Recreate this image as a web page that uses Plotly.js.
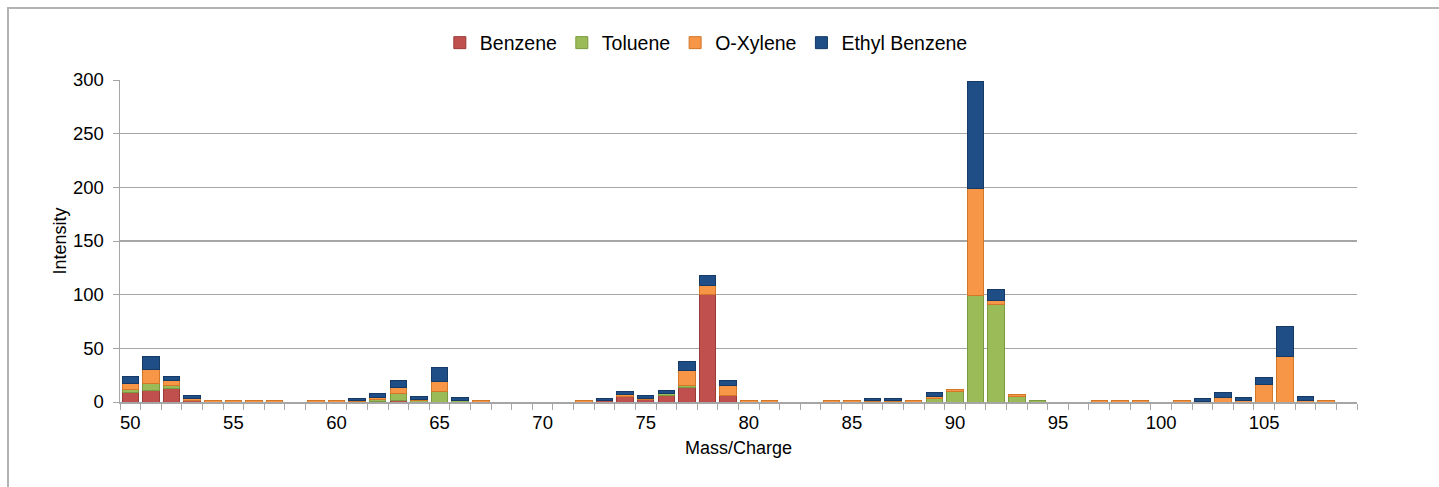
<!DOCTYPE html>
<html>
<head>
<meta charset="utf-8">
<script src="https://cdn.plot.ly/plotly-3.0.1.min.js"></script>
<style>
  html, body { margin: 0; padding: 0; background: #ffffff; overflow: hidden; }
  #chart { position: absolute; left: 0; top: 0; width: 1439px; height: 487px; }
  #frameTop { position: absolute; left: 7px; top: 7px; width: 1432px; height: 0;
              border-top: 2px solid #b3b3b3; pointer-events: none; }
  #frameLeft { position: absolute; left: 7px; top: 7px; width: 0; height: 480px;
               border-left: 2px solid #b3b3b3; pointer-events: none; }
</style>
</head>
<body>
<div id="chart"></div>
<div id="frameTop"></div>
<div id="frameLeft"></div>
<script>
// Mass/charge categories that carry a value
const massCharge = [50,51,52,53,54,55,56,57,59,60,61,62,63,64,65,66,67,
                    72,73,74,75,76,77,78,79,80,81,
                    84,85,86,87,88,89,90,91,92,93,94,
                    97,98,99,101,102,103,104,105,106,107,108];

const benzene = [9,11,13,1,null,null,null,null,null,null,null,0.5,1,null,null,null,null,
                 null,1,5,2,6.5,13.5,100,6,null,null,
                 null,null,null,null,null,null,null,null,null,null,null,
                 null,null,null,null,null,null,null,null,null,null,null];

const toluene = [3,6,2,0.5,null,null,null,null,null,null,0.5,2,6.5,1,10,1,null,
                 null,null,0.5,0.5,1,1.5,0.5,0.3,null,null,
                 null,null,0.5,0.5,null,3.5,10,99,91,5,1.5,
                 null,null,null,null,null,null,null,null,null,null,null];

const oXylene = [5,13,5,2,1,1,1.5,1,1,1.5,1,2,6,1,9,0.5,1.5,
                 1.5,0.5,1.5,1,0.5,14,8,9,1.5,1.5,
                 1.5,1.5,0.5,0.5,1.5,1.5,2,100,4,2,null,
                 1.5,1.5,1.5,1.5,0.5,4,1,16,42,1,1.5];

const ethylBenzene = [7,12,4,3,null,null,null,null,null,null,2,3,7,3,13,2.5,null,
                      null,2,3,2.5,2.5,8.5,9,4.5,null,null,
                      null,null,2,2,null,4,null,100,10,null,null,
                      null,null,null,null,2.5,4.5,3,7,28,4,null];

const seriesNames = ['Benzene','Toluene','O-Xylene','Ethyl Benzene'];
const seriesValues = [benzene, toluene, oXylene, ethylBenzene];
const fillColors = ['#c0504d','#9bbb59','#f79646','#1f4e87'];
const edgeColors = ['#9a3b38','#7a9a40','#d27628','#163a66'];

const xTickVals = [50,55,60,65,70,75,80,85,90,95,100,105];
const yTickVals = [0,50,100,150,200,250,300];

const traces = seriesNames.map((name, i) => ({
  type: 'bar',
  name: name,
  x: massCharge,
  y: seriesValues[i],
  width: 0.8,
  marker: { color: fillColors[i], line: { color: edgeColors[i], width: 1 } },
  hoverinfo: 'x+y+name'
}));

const font = "'Liberation Sans', Arial, sans-serif";

const layout = {
  width: 1439, height: 487,
  margin: { l: 120, r: 82, t: 80, b: 85 },
  paper_bgcolor: '#ffffff',
  plot_bgcolor: '#ffffff',
  barmode: 'stack',
  font: { family: font, color: '#000000', size: 18 },
  showlegend: true,
  legend: {
    orientation: 'h',
    x: 0.474, xanchor: 'center',
    y: 1.115, yanchor: 'middle',
    font: { family: font, size: 19.5, color: '#000000' },
    itemwidth: 30,
    tracegroupgap: 0,
    traceorder: 'normal'
  },
  xaxis: {
    range: [49.5, 109.5],
    tickmode: 'array',
    tickvals: xTickVals,
    ticktext: xTickVals.map(String),
    ticks: '',
    showgrid: false,
    zeroline: false,
    showline: true,
    linecolor: '#a6a6a6',
    linewidth: 1.5,
    tickfont: { family: font, size: 18.5, color: '#000000' },
    ticklabelstandoff: 3,
    minor: { tick0: 49.5, dtick: 1, ticks: 'outside', ticklen: 6, tickcolor: '#a6a6a6', tickwidth: 1, showgrid: false },
    title: { text: 'Mass/Charge', font: { family: font, size: 18, color: '#000000' }, standoff: 9 }
  },
  yaxis: {
    range: [0, 300],
    tickmode: 'array',
    tickvals: yTickVals,
    ticks: 'outside',
    ticklen: 6,
    tickcolor: '#a6a6a6',
    showgrid: true,
    gridcolor: '#a6a6a6',
    gridwidth: 1.5,
    zeroline: false,
    showline: true,
    linecolor: '#a6a6a6',
    linewidth: 1.5,
    tickfont: { family: font, size: 18.5, color: '#000000' },
    ticklabelstandoff: 5,
    title: { text: 'Intensity', font: { family: font, size: 18, color: '#000000' }, standoff: 1 }
  }
};

Plotly.newPlot('chart', traces, layout, { displayModeBar: false, staticPlot: true });
</script>
</body>
</html>
